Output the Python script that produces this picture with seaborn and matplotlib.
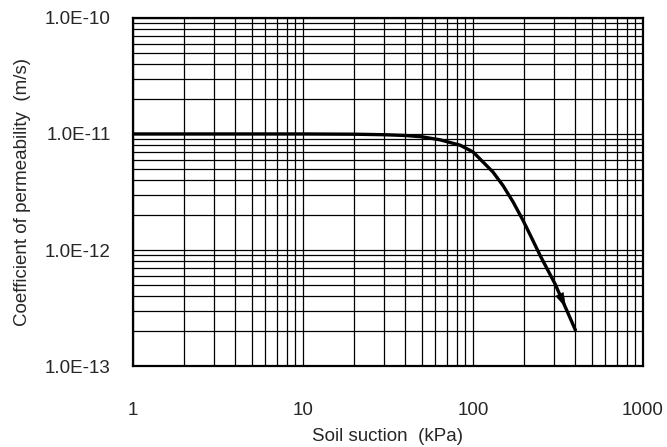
import matplotlib
matplotlib.use("Agg")
import matplotlib.pyplot as plt
import matplotlib.ticker as mticker
import seaborn as sns
import pandas as pd

# Data
suction_kpa = [1, 10, 20, 30, 40, 50, 64, 84, 100, 115, 131, 150, 172, 197,
               222, 248, 304, 350, 400]
permeability = [1.0e-11, 1.0e-11, 9.95e-12, 9.85e-12, 9.7e-12, 9.45e-12,
                8.9e-12, 8.0e-12, 7.0e-12, 5.7e-12, 4.7e-12, 3.6e-12,
                2.6e-12, 1.8e-12, 1.26e-12, 9.0e-13, 5.1e-13, 3.2e-13, 2.05e-13]
marker_x = [334]
marker_y = [3.7e-13]
x_ticks = [1, 10, 100, 1000]
x_tick_labels = ["1", "10", "100", "1000"]
y_ticks = [1e-13, 1e-12, 1e-11, 1e-10]
y_tick_labels = ["1.0E-13", "1.0E-12", "1.0E-11", "1.0E-10"]

sns.set_style("white")
plt.rcParams['font.family'] = ['Liberation Sans', 'DejaVu Sans']

fig = plt.figure(figsize=(6.67, 4.47), dpi=100)
ax = fig.add_axes([0.1994, 0.181, 0.7646, 0.779])

df = pd.DataFrame({"x": suction_kpa, "y": permeability})
sns.lineplot(data=df, x="x", y="y", ax=ax, color="black", linewidth=2.4, zorder=5)

# elongated arrowhead pointing down along the curve
arrow_marker = [(0.431, -0.902), (0.11, 1.16), (-0.97, 0.64), (0.431, -0.902)]
sns.scatterplot(x=marker_x, y=marker_y, ax=ax, color="black",
                marker=arrow_marker, s=130, zorder=6, edgecolor="black",
                linewidth=0.5)

ax.set_xscale("log")
ax.set_yscale("log")
ax.set_xlim(1, 1000)
ax.set_ylim(1e-13, 1e-10)

ax.set_xticks(x_ticks)
ax.set_xticklabels(x_tick_labels)
ax.set_yticks(y_ticks)
ax.set_yticklabels(y_tick_labels)
ax.xaxis.set_minor_locator(mticker.LogLocator(base=10, subs=range(2, 10)))
ax.yaxis.set_minor_locator(mticker.LogLocator(base=10, subs=range(2, 10)))
ax.xaxis.set_minor_formatter(mticker.NullFormatter())
ax.yaxis.set_minor_formatter(mticker.NullFormatter())

ax.grid(True, which="both", color="black", linewidth=0.9)
ax.tick_params(which="both", length=0)
ax.tick_params(axis="x", pad=26, labelsize=13.5)
ax.tick_params(axis="y", pad=16, labelsize=13.5)

for s in ax.spines.values():
    s.set_visible(True)
    s.set_color("black")
    s.set_linewidth(1.6)

ax.set_xlabel("Soil suction  (kPa)", fontsize=13.5, labelpad=6)
ax.set_ylabel("Coefficient of permeability  (m/s)", fontsize=13.5, labelpad=10)

fig.savefig("out.png", dpi=100)
